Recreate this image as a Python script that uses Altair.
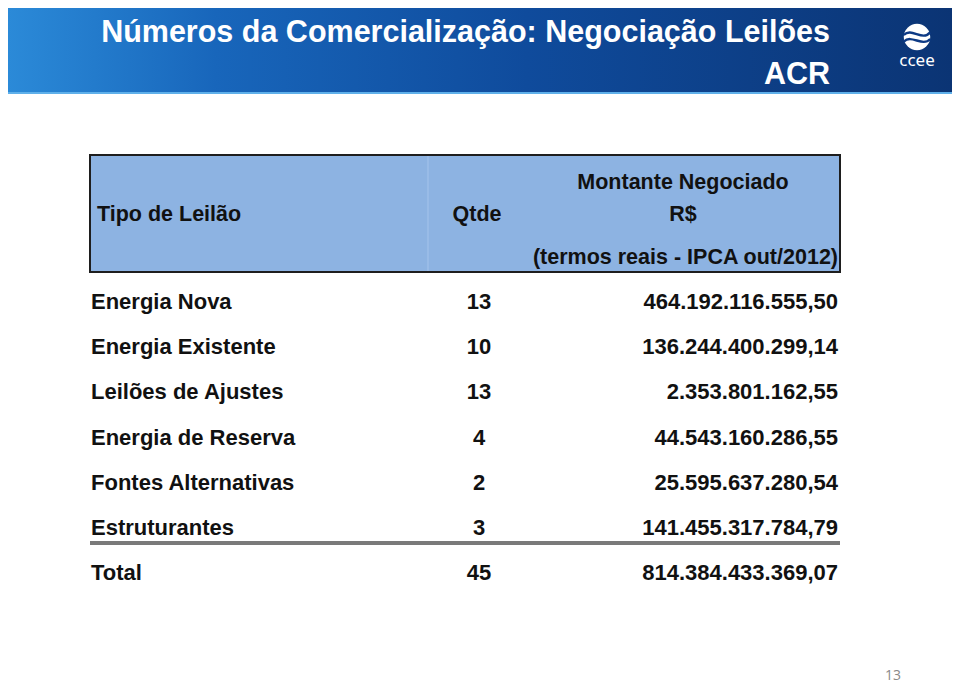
import altair as alt
import pandas as pd

# ---- data ----
tipos = ["Energia Nova", "Energia Existente", "Leilões de Ajustes",
         "Energia de Reserva", "Fontes Alternativas", "Estruturantes", "Total"]
qtde = [13, 10, 13, 4, 2, 3, 45]
montante = [464192116555.50, 136244400299.14, 2353801162.55,
            44543160286.55, 25595637280.54, 141455317784.79, 814384433369.07]

title_lines = ["Números da Comercialização: Negociação Leilões", "ACR"]
header_cols = ["Tipo de Leilão", "Qtde", "Montante Negociado", "R$",
               "(termos reais - IPCA out/2012)"]
page_number = "13"


def br(v):
    s = f"{v:,.2f}"
    return s.replace(",", "X").replace(".", ",").replace("X", ".")


df = pd.DataFrame({
    "idx": list(range(len(tipos))),
    "tipo": tipos,
    "qtde": [str(q) for q in qtde],
    "mont": [br(v) for v in montante],
})

W, H = 944, 678
FONT = "Liberation Sans, Arial, sans-serif"
one = alt.Data(values=[{}])


def blank():
    return alt.Chart(one)


# banner
banner = blank().mark_rect(
    color=alt.Gradient(
        gradient="linear", x1=0, x2=1, y1=0, y2=0,
        stops=[alt.GradientStop(color="#2b8ad8", offset=0),
               alt.GradientStop(color="#1866bb", offset=0.22),
               alt.GradientStop(color="#0f4b9c", offset=0.55),
               alt.GradientStop(color="#0b3474", offset=1)])
).encode(x=alt.value(0), x2=alt.value(W), y=alt.value(0), y2=alt.value(85))

banner_line = blank().mark_rule(color="#5fb0ea", strokeWidth=2).encode(
    x=alt.value(0), x2=alt.value(W), y=alt.value(85))

streak_grad = alt.Gradient(
    gradient="linear", x1=0, x2=1, y1=0, y2=0,
    stops=[alt.GradientStop(color="rgba(255,255,255,0.85)", offset=0),
           alt.GradientStop(color="rgba(255,255,255,0)", offset=1)])
streaks = [
    blank().mark_rule(color=streak_grad, strokeWidth=sw).encode(
        x=alt.value(0), x2=alt.value(x2), y=alt.value(yy))
    for yy, x2, sw in [(14, 130, 1.5), (22, 200, 1), (30, 160, 1.5),
                       (52, 90, 2), (58, 240, 1), (70, 160, 1.5)]
]

title1 = blank().mark_text(
    text=title_lines[0], font=FONT, fontSize=30.5, fontWeight="bold",
    color="white", align="right", baseline="middle"
).encode(x=alt.value(822), y=alt.value(25))
title2 = blank().mark_text(
    text=title_lines[1], font=FONT, fontSize=30.5, fontWeight="bold",
    color="white", align="right", baseline="middle"
).encode(x=alt.value(822), y=alt.value(67))

logo_circle = blank().mark_point(
    shape="circle", filled=True, color="white", size=700, opacity=1
).encode(x=alt.value(909), y=alt.value(29))
logo_swoosh = blank().mark_point(
    shape="M -1 -0.15 C -0.4 -0.75 0.4 0.35 1 -0.35 M -1 0.35 C -0.4 -0.25 0.4 0.8 1 0.15",
    filled=False, color="#0d3a85", strokeWidth=2.4, size=700, opacity=1
).encode(x=alt.value(909), y=alt.value(29))
logo_text = blank().mark_text(
    text="ccee", font="Noto Sans", fontSize=17, color="white",
    align="center", baseline="middle"
).encode(x=alt.value(909), y=alt.value(53))

# table header
head_rect = blank().mark_rect(
    color="#8db3e2", stroke="#1e1e1e", strokeWidth=2
).encode(x=alt.value(82), x2=alt.value(832), y=alt.value(147), y2=alt.value(264))
head_div = blank().mark_rule(color="#a5c4ec", strokeWidth=1).encode(
    x=alt.value(420), y=alt.value(148), y2=alt.value(263))

HFS = 21.5


def htext(t, x, y, align):
    return blank().mark_text(
        text=t, font=FONT, fontSize=HFS, fontWeight="bold", color="#111111",
        align=align, baseline="middle"
    ).encode(x=alt.value(x), y=alt.value(y))


headers = [
    htext(header_cols[0], 89, 207, "left"),
    htext(header_cols[1], 469, 207, "center"),
    htext(header_cols[2], 675, 175, "center"),
    htext(header_cols[3], 675, 207, "center"),
    htext(header_cols[4], 830, 250, "right"),
]

# rows
yscale = alt.Scale(domain=[0, len(tipos) - 1], range=[294, 565])
base = alt.Chart(df)
BFS = 22
common = dict(font=FONT, fontSize=BFS, fontWeight="bold", color="#111111",
              baseline="middle")
col_tipo = base.mark_text(align="left", **common).encode(
    x=alt.value(83), y=alt.Y("idx:Q", scale=yscale, axis=None), text="tipo:N")
col_qtde = base.mark_text(align="center", **common).encode(
    x=alt.value(471), y=alt.Y("idx:Q", scale=yscale, axis=None), text="qtde:N")
col_mont = base.mark_text(align="right", **common).encode(
    x=alt.value(830), y=alt.Y("idx:Q", scale=yscale, axis=None), text="mont:N")

sep = blank().mark_rule(color="#7a7a7a", strokeWidth=4).encode(
    x=alt.value(82), x2=alt.value(832), y=alt.value(535))

page = blank().mark_text(
    text=page_number, font="Open Sans", fontSize=14, color="#8a8a8a",
    align="center", baseline="middle"
).encode(x=alt.value(885), y=alt.value(668))

chart = alt.layer(
    banner, *streaks, banner_line, title1, title2,
    logo_circle, logo_swoosh, logo_text,
    head_rect, head_div, *headers,
    col_tipo, col_qtde, col_mont, sep, page
).properties(
    width=W, height=H, padding=0, background="white",
    autosize=alt.AutoSizeParams(type="none")
).configure_view(strokeWidth=0)

chart.save("out.html", embed_options={"renderer": "svg", "actions": False})
